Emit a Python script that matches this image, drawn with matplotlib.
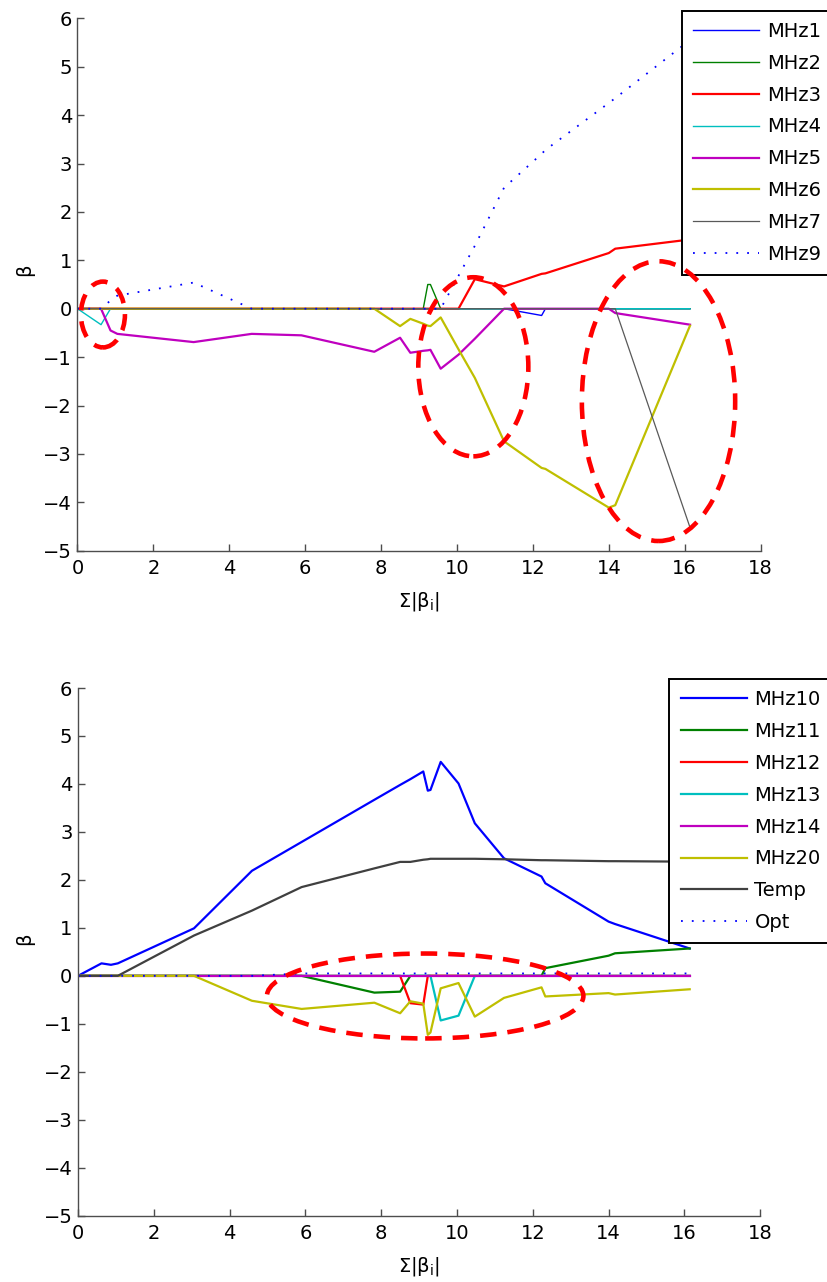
import matplotlib
matplotlib.use('Agg')
import matplotlib.pyplot as plt
from matplotlib.patches import Ellipse

plt.rcParams['font.family'] = ['DejaVu Sans']
plt.rcParams['mathtext.default'] = 'regular'

# ---------------- data ----------------
l1_norm = [0, 0.62, 0.87, 1.05, 3.06, 4.59, 5.9, 7.82, 8.5, 8.77, 9.11, 9.23, 9.3,
           9.57, 10.04, 10.47, 11.24, 12.23, 12.33, 14.0, 14.17, 16.14]

# top panel
mhz1 = [0, 0, 0, 0, 0, 0, 0, 0, 0, 0, 0, 0, 0, 0, 0, 0, 0, -0.14, 0, 0, 0, 0]
mhz2 = [0, 0, 0, 0, 0, 0, 0, 0, 0, 0, 0, 0.5, 0.5, 0, 0, 0, 0, 0, 0, 0, 0, 0]
mhz3 = [0, 0, 0, 0, 0, 0, 0, 0, 0, 0, 0, 0, 0, 0, 0, 0.61, 0.46, 0.72, 0.73, 1.15, 1.24, 1.43]
mhz4 = [0, -0.33, 0, 0, 0, 0, 0, 0, 0, 0, 0, 0, 0, 0, 0, 0, 0, 0, 0, 0, 0, 0]
mhz5 = [0, 0, -0.45, -0.52, -0.69, -0.52, -0.55, -0.89, -0.60, -0.91, -0.87, -0.86, -0.85,
        -1.24, -0.95, -0.62, 0, 0, 0, 0, -0.09, -0.33]
mhz6 = [0, 0, 0, 0, 0, 0, 0, 0, -0.36, -0.21, -0.31, -0.35, -0.36, -0.18, -0.84, -1.43,
        -2.74, -3.29, -3.31, -4.11, -4.06, -0.35]
mhz7 = [0, 0, 0, 0, 0, 0, 0, 0, 0, 0, 0, 0, 0, 0, 0, 0, 0, 0, 0, 0, 0, -4.52]
mhz9 = [0, 0, 0.17, 0.27, 0.54, 0, 0, 0, 0, 0, 0, 0, 0, 0, 0.68, 1.3, 2.5, 3.2, 3.28,
        4.25, 4.35, 5.55]

# bottom panel
mhz10 = [0, 0.26, 0.23, 0.26, 0.99, 2.19, 2.79, 3.67, 3.98, 4.10, 4.26, 3.86, 3.875,
         4.46, 4.01, 3.18, 2.45, 2.07, 1.93, 1.13, 1.08, 0.57]
mhz11 = [0, 0, 0, 0, 0, 0, 0, -0.35, -0.33, 0, 0, 0, 0, 0, 0, 0, 0, 0, 0.16, 0.42, 0.47, 0.57]
mhz12 = [0, 0, 0, 0, 0, 0, 0, 0, 0, -0.57, -0.60, 0, 0, 0, 0, 0, 0, 0, 0, 0, 0, 0]
mhz13 = [0, 0, 0, 0, 0, 0, 0, 0, 0, 0, 0, 0, 0, -0.93, -0.83, 0, 0, 0, 0, 0, 0, 0]
mhz14 = [0] * 22
mhz20 = [0, 0, 0, 0, 0, -0.52, -0.69, -0.56, -0.78, -0.53, -0.58, -1.23, -1.18, -0.26,
         -0.15, -0.85, -0.46, -0.24, -0.43, -0.36, -0.39, -0.28]
temp = [0, 0, 0, 0, 0.84, 1.36, 1.85, 2.24, 2.375, 2.375, 2.42, 2.43, 2.44, 2.44, 2.44,
        2.44, 2.43, 2.41, 2.41, 2.39, 2.39, 2.38]
opt = [0, 0, 0, 0, 0, 0, 0.05, 0.05, 0.05, 0.05, 0.05, 0.05, 0.05, 0.05, 0.05, 0.05,
       0.05, 0.05, 0.05, 0.05, 0.05, 0.05]

top_labels = ['MHz1', 'MHz2', 'MHz3', 'MHz4', 'MHz5', 'MHz6', 'MHz7', 'MHz9']
bottom_labels = ['MHz10', 'MHz11', 'MHz12', 'MHz13', 'MHz14', 'MHz20', 'Temp', 'Opt']

# highlighted regions (center x, center y, width, height) in data units
top_regions_cx = [0.67, 10.43, 15.31]
top_regions_cy = [-0.12, -1.2, -1.91]
top_regions_w = [1.16, 2.9, 4.04]
top_regions_h = [1.36, 3.7, 5.78]
bottom_regions_cx = [9.16]
bottom_regions_cy = [-0.42]
bottom_regions_w = [8.35]
bottom_regions_h = [1.77]

# ---------------- styling ----------------
C_B = (0, 0, 1)
C_G = (0, 0.5, 0)
C_R = (1, 0, 0)
C_C = (0, 0.75, 0.75)
C_M = (0.75, 0, 0.75)
C_Y = (0.75, 0.75, 0)
C_K = (0.25, 0.25, 0.25)
THIN = 1.0
THICK = 1.6
DOT = (0, (1, 5))
FS = 14

W, H = 828, 1282
fig = plt.figure(figsize=(W / 100, H / 100), dpi=100)
ax1 = fig.add_axes([77.5 / W, 1 - 550.7 / H, (760.6 - 77.5) / W, (550.7 - 18.3) / H])
ax2 = fig.add_axes([78 / W, 1 - 1215.7 / H, (760.2 - 78) / W, (1215.7 - 688) / H])

top_series = [mhz1, mhz2, mhz3, mhz4, mhz5, mhz6, mhz7, mhz9]
top_styles = [(C_B, THIN, '-'), (C_G, THIN, '-'), (C_R, THICK, '-'), (C_C, THIN, '-'),
              (C_M, THICK, '-'), (C_Y, THICK, '-'), ((0.35, 0.35, 0.35), 0.9, '-'),
              (C_B, 1.3, DOT)]
bottom_series = [mhz10, mhz11, mhz12, mhz13, mhz14, mhz20, temp, opt]
bottom_styles = [(C_B, THICK, '-'), (C_G, THICK, '-'), (C_R, THICK, '-'), (C_C, THICK, '-'),
                 (C_M, THICK, '-'), (C_Y, THICK, '-'), (C_K, THICK, '-'), (C_B, 1.3, DOT)]


def draw(ax, series, styles, labels, cx, cy, ew, eh, leg_xy, ylab_y):
    for y, (c, lw, ls), lab in zip(series, styles, labels):
        ax.plot(l1_norm, y, color=c, lw=lw, linestyle=ls, label=lab)
    for x0, y0, w0, h0 in zip(cx, cy, ew, eh):
        e = Ellipse((x0, y0), w0, h0, fill=False, edgecolor=C_R, lw=3.3,
                    linestyle=(0, (3.6, 2.4)), zorder=10, clip_on=False)
        ax.add_patch(e)
    ax.set_xlim(0, 18)
    ax.set_ylim(-5, 6)
    ax.set_xticks(range(0, 19, 2))
    ax.set_yticks(range(-5, 7))
    for s in ['top', 'right']:
        ax.spines[s].set_visible(False)
    for s in ['left', 'bottom']:
        ax.spines[s].set_color('0.3')
        ax.spines[s].set_linewidth(1.0)
    ax.tick_params(direction='in', length=5, width=1, color='0.3',
                   labelsize=FS, labelcolor='black')
    ax.tick_params(axis='x', pad=6)
    ax.tick_params(axis='y', pad=4)
    ax.set_xlabel(r'$\Sigma|\beta_i|$', fontsize=FS)
    ax.set_ylabel(r'$\beta$', fontsize=FS)
    ax.xaxis.set_label_coords(0.5, -0.074)
    ax.yaxis.set_label_coords(-0.058, ylab_y)
    leg = ax.legend(loc='upper left', bbox_to_anchor=(leg_xy[0] / W, 1 - leg_xy[1] / H),
                    bbox_transform=fig.transFigure, frameon=True, fancybox=False,
                    edgecolor='black', framealpha=1, borderpad=0.58, handlelength=3.4,
                    handletextpad=0.4, labelspacing=0.66, borderaxespad=0, fontsize=FS)
    leg.get_frame().set_linewidth(1.4)
    leg.set_zorder(5)


draw(ax1, top_series, top_styles, top_labels, top_regions_cx, top_regions_cy,
     top_regions_w, top_regions_h, (682, 10.7), 0.525)
draw(ax2, bottom_series, bottom_styles, bottom_labels, bottom_regions_cx, bottom_regions_cy,
     bottom_regions_w, bottom_regions_h, (669.3, 679), 0.522)

fig.savefig('out.png', dpi=100, facecolor='white')
